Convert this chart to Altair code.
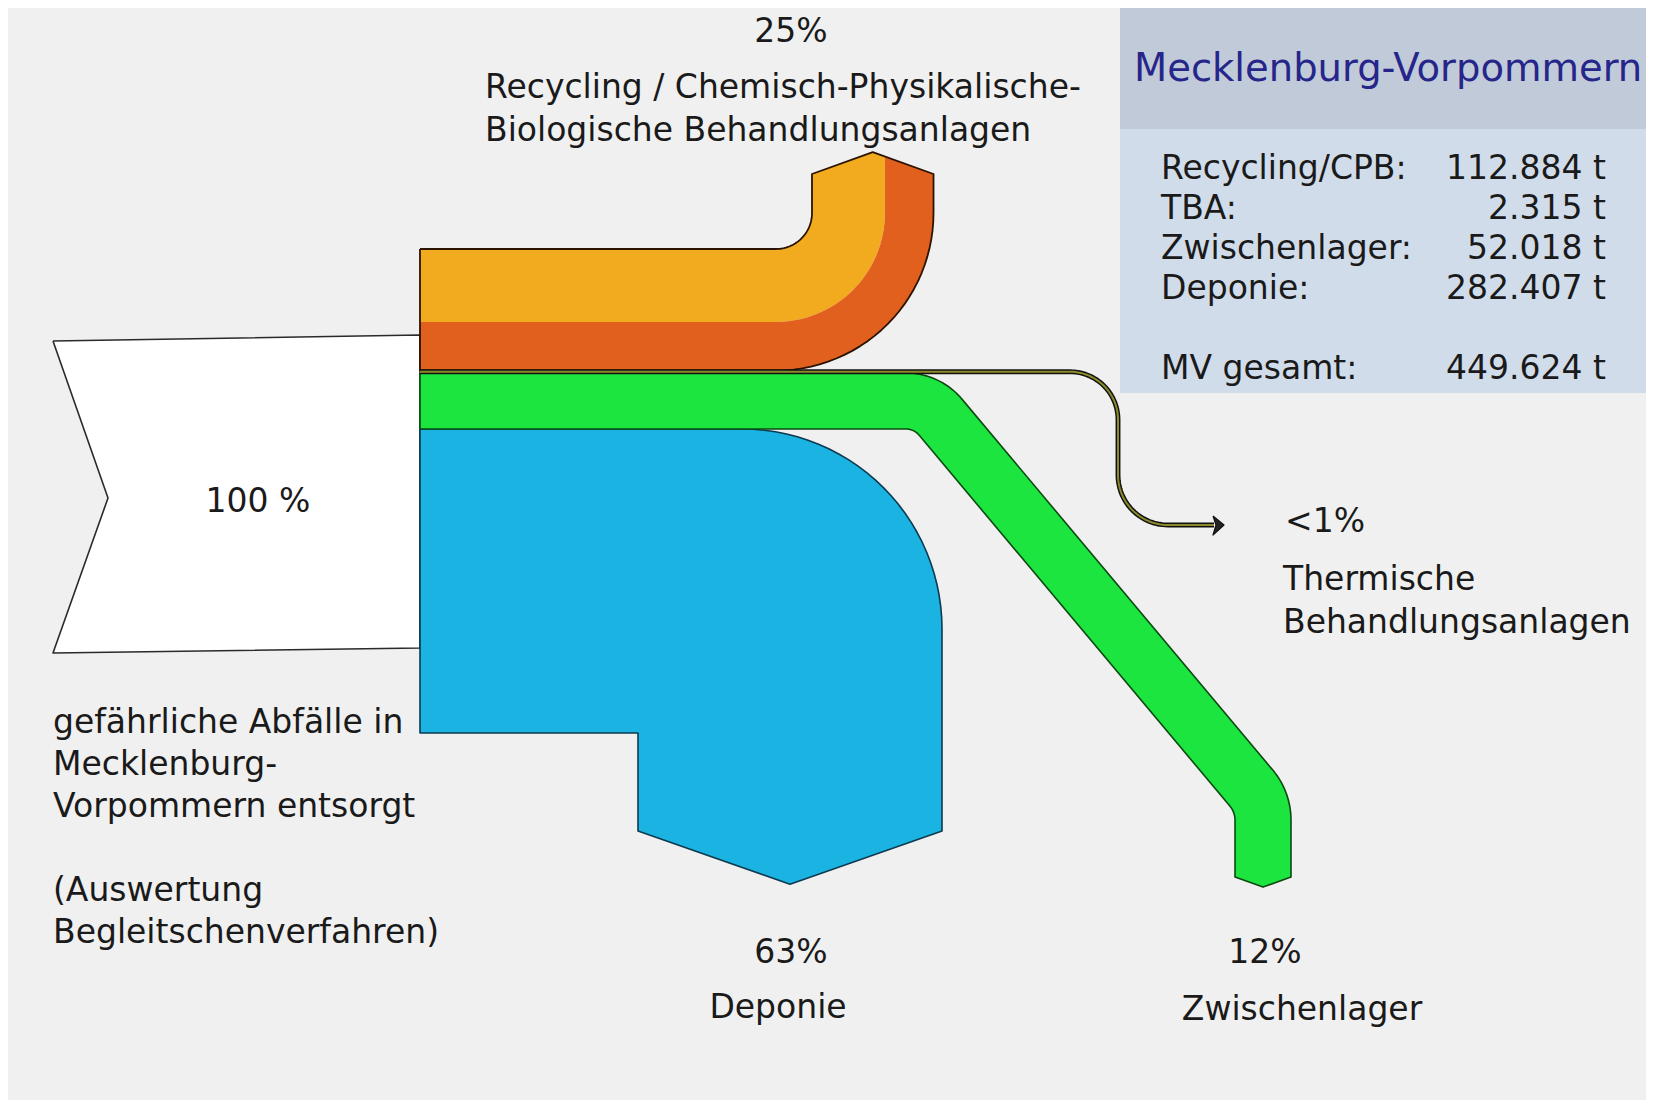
import math
import altair as alt
import pandas as pd

# ---------------- data ----------------
region = "Mecklenburg-Vorpommern"
flow_keys = ["Recycling/CPB", "TBA", "Zwischenlager", "Deponie"]
box_labels = ["Recycling/CPB:", "TBA:", "Zwischenlager:", "Deponie:"]
tonnes = [112884, 2315, 52018, 282407]
total_label = "MV gesamt:"
total_tonnes = 449624
source_lines = ["gefährliche Abfälle in", "Mecklenburg-", "Vorpommern entsorgt", "",
                "(Auswertung", "Begleitschenverfahren)"]
recycling_lines = ["Recycling / Chemisch-Physikalische-", "Biologische Behandlungsanlagen"]
tba_lines = ["Thermische", "Behandlungsanlagen"]
zwischen_lines = ["Zwischenlager"]
deponie_lines = ["Deponie"]

FONT = "DejaVu Sans"
TXT = "#1a1a1a"


def pct(v):
    p = v / total_tonnes * 100
    return "<1%" if p < 1 else f"{round(p)}%"


def fmt_t(v):
    return f"{v:,}".replace(",", ".") + " t"


# ---------------- layout (pixel space of the picture) ----------------
STACK_X = 420
STACK_TOP = 249
STACK_PX = 484
thick = [v / total_tonnes * STACK_PX for v in tonnes]
tops = []
acc = STACK_TOP
for t in thick:
    tops.append(acc)
    acc += t

X = alt.X("x:Q", scale=alt.Scale(domain=[8, 1646], nice=False, zero=False), axis=None)
Y = alt.Y("y:Q", scale=alt.Scale(domain=[8, 1100], nice=False, zero=False, reverse=True), axis=None)


def arc(cx, cy, r, a0, a1, n=28):
    out = []
    for j in range(n + 1):
        a = math.radians(a0 + (a1 - a0) * j / n)
        out.append((cx + r * math.cos(a), cy + r * math.sin(a)))
    return out


def centerline(pts, radii, n=28):
    heads = [math.atan2(pts[k + 1][1] - pts[k][1], pts[k + 1][0] - pts[k][0]) for k in range(len(pts) - 1)]
    out = [(pts[0][0], pts[0][1], heads[0])]
    for k in range(1, len(pts) - 1):
        P = pts[k]
        h1, h2 = heads[k - 1], heads[k]
        R = radii[k - 1]
        d = (h2 - h1 + math.pi) % (2 * math.pi) - math.pi
        T = R * math.tan(abs(d) / 2)
        A = (P[0] - T * math.cos(h1), P[1] - T * math.sin(h1))
        s = 1 if d > 0 else -1
        C = (A[0] + s * R * -math.sin(h1), A[1] + s * R * math.cos(h1))
        for j in range(n + 1):
            h = h1 + d * j / n
            out.append((C[0] - s * R * -math.sin(h), C[1] - s * R * math.cos(h), h))
    out.append((pts[-1][0], pts[-1][1], heads[-1]))
    return out


def band(pts, radii, w, depth):
    cl = centerline(pts, radii)
    minus = [(x + math.sin(h) * w / 2, y - math.cos(h) * w / 2) for x, y, h in cl]
    plus = [(x - math.sin(h) * w / 2, y + math.cos(h) * w / 2) for x, y, h in cl]
    ex, ey, eh = cl[-1]
    tip = (ex + depth * math.cos(eh), ey + depth * math.sin(eh))
    return minus + [tip] + plus[::-1]


def poly_layer(pts, fill=None, stroke=None, sw=1.6, close=True):
    if close:
        pts = pts + [pts[0]]
    df = pd.DataFrame({"x": [p[0] for p in pts], "y": [p[1] for p in pts], "i": list(range(len(pts)))})
    enc = dict(x=X, y=Y, order=alt.Order("i:Q"))
    if fill:
        enc["fill"] = alt.value(fill)
    if stroke:
        enc["stroke"] = alt.value(stroke)
        mk = alt.Chart(df).mark_line(strokeWidth=sw, strokeJoin="round", clip=True)
    else:
        mk = alt.Chart(df).mark_line(strokeWidth=0, strokeOpacity=0, clip=True)
    return mk.encode(**enc)


layers = []

# info box
box = pd.DataFrame({"x": [1120, 1120], "x2": [1660, 1660], "y": [8, 129], "y2": [129, 393],
                    "c": ["#c1cad8", "#d1dcea"]})
layers.append(alt.Chart(box).mark_rect(clip=True).encode(
    x=X, x2="x2:Q", y=Y, y2="y2:Q", fill=alt.Color("c:N", scale=None)))

# source arrow (100 %)
src = [(53, 341), (STACK_X, 335), (STACK_X, 648), (53, 653), (108, 498)]
layers.append(poly_layer(src, fill="#ffffff", stroke="#2a2a2a"))

# Recycling band (turns upward), two-tone
rt, rth = tops[0], thick[0]
r_in = 36
cx, cy = 776, rt - r_in
r_out = r_in + rth
r_s = r_in + 0.6 * rth
tip_base = 174
depth = 0.18 * rth
px = cx + (r_in + r_out) / 2
peak = (px, tip_base - depth)
xs = cx + r_s
ys = tip_base - depth + (xs - px) / (cx + r_out - px) * depth
orange = [(STACK_X, rt), (cx, rt)] + arc(cx, cy, r_in, 90, 0) + [(cx + r_in, tip_base), peak, (xs, ys)] \
    + arc(cx, cy, r_s, 0, 90) + [(STACK_X, cy + r_s)]
red = [(STACK_X, cy + r_s), (cx, cy + r_s)] + arc(cx, cy, r_s, 90, 0) + [(xs, ys), (cx + r_out, tip_base)] \
    + arc(cx, cy, r_out, 0, 90) + [(STACK_X, cy + r_out)]
rec_outline = [(STACK_X, rt), (cx, rt)] + arc(cx, cy, r_in, 90, 0) + [(cx + r_in, tip_base), peak,
                                                                       (cx + r_out, tip_base)] \
    + arc(cx, cy, r_out, 0, 90) + [(STACK_X, cy + r_out)]
layers.append(poly_layer(orange, fill="#f2ab1f"))
layers.append(poly_layer(red, fill="#e2601e"))
layers.append(poly_layer(rec_outline, stroke="#2b1300", sw=1.8))

# Deponie band (turns downward)
dt, dth = tops[3], thick[3]
inner_x = 638
R_d = 200
right_x = inner_x + dth
d_base = 831
d_depth = 0.175 * dth
dep = [(STACK_X, dt), (right_x - R_d, dt)] + arc(right_x - R_d, dt + R_d, R_d, -90, 0) + \
      [(right_x, d_base), ((inner_x + right_x) / 2, d_base + d_depth), (inner_x, d_base),
       (inner_x, dt + dth), (STACK_X, dt + dth)]
layers.append(poly_layer(dep, fill="#1bb4e2", stroke="#0c3a50"))

# Zwischenlager band (diagonal)
zt, zth = tops[2], thick[2]
zc = zt + zth / 2
green = band([(STACK_X, zc), (927, zc), (1263, 802), (1263, 877)], [45, 50], zth, 0.18 * zth)
layers.append(poly_layer(green, fill="#1de53f", stroke="#0a4a12"))

# TBA thin line with arrow
tt, tth = tops[1], thick[1]
tc = tt + tth / 2
tba = centerline([(STACK_X, tc), (1118, tc), (1118, 525), (1214, 525)], [48, 50])
tba_pts = [(p[0], p[1]) for p in tba]
layers.append(poly_layer(tba_pts, stroke="#111111", sw=tth + 2.4, close=False))
layers.append(poly_layer(tba_pts, stroke="#8a8a2a", sw=tth * 0.8, close=False))
layers.append(poly_layer([(1213, 516), (1224, 525), (1213, 535), (1216, 525)], fill="#222222", stroke="#111111", sw=1.2))

# ---------------- texts ----------------
left_rows = []
for j, s in enumerate(recycling_lines):
    left_rows.append((s, 485, 88 + 43 * j, 33, TXT))
left_rows.append((region, 1134, 69, 38.5, "#25258a"))
for j, s in enumerate(box_labels):
    left_rows.append((s, 1161, 169 + 40 * j, 33, TXT))
left_rows.append((total_label, 1161, 369, 33, TXT))
left_rows.append((pct(tonnes[1]), 1285, 522, 33, TXT))
for j, s in enumerate(tba_lines):
    left_rows.append((s, 1283, 580 + 43 * j, 33, TXT))
for j, s in enumerate(source_lines):
    if s:
        left_rows.append((s, 53, 723 + 42 * j, 33, TXT))

center_rows = [
    (pct(tonnes[0]), 791, 32, 33, TXT),
    (f"{round(sum(tonnes) / total_tonnes * 100)} %", 258, 502, 33, TXT),
    (pct(tonnes[3]), 791, 953, 33, TXT),
    (deponie_lines[0], 778, 1008, 33, TXT),
    (pct(tonnes[2]), 1265, 953, 33, TXT),
    (zwischen_lines[0], 1302, 1010, 33, TXT),
]

right_rows = [(fmt_t(v), 1606, 169 + 40 * j, 33, TXT) for j, v in enumerate(tonnes)]
right_rows.append((fmt_t(total_tonnes), 1606, 369, 33, TXT))


def text_layer(rows, align):
    df = pd.DataFrame(rows, columns=["t", "x", "y", "s", "c"])
    return alt.Chart(df).mark_text(font=FONT, align=align, baseline="middle", clip=True).encode(
        x=X, y=Y, text="t:N", size=alt.Size("s:Q", scale=None), color=alt.Color("c:N", scale=None))


layers.append(text_layer(left_rows, "left"))
layers.append(text_layer(center_rows, "center"))
layers.append(text_layer(right_rows, "right"))

chart = alt.layer(*layers).properties(
    width=1638, height=1092, background="#f0f0f0", padding=0,
    autosize=alt.AutoSizeParams(type="none"),
).configure_view(stroke=None)

chart.save("out.html", embed_options={"renderer": "svg", "actions": False})
